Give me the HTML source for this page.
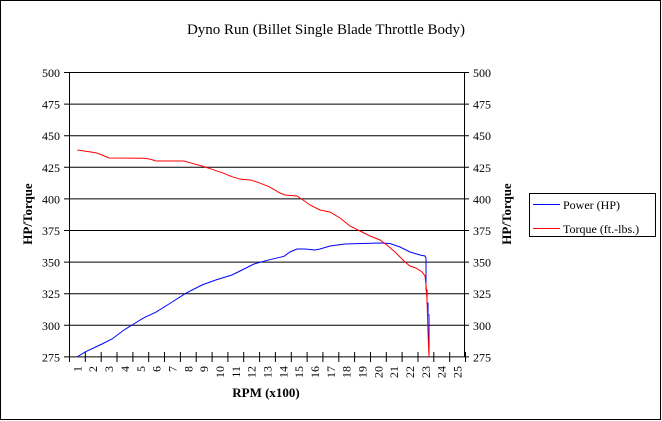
<!DOCTYPE html>
<html><head><style>
body{margin:0;background:#fff}
svg{display:block;font-family:"Liberation Serif",serif}
</style></head><body>
<svg width="662" height="421" viewBox="0 0 662 421" xmlns="http://www.w3.org/2000/svg">
<rect x="0.5" y="0.5" width="660" height="419" fill="#fff" stroke="#000"/>
<text x="326" y="34" font-size="15" text-anchor="middle">Dyno Run (Billet Single Blade Throttle Body)</text>
<g stroke="#000" stroke-width="1">
<line x1="64" y1="72.5" x2="469" y2="72.5"/>
<line x1="64" y1="104.1" x2="469" y2="104.1"/>
<line x1="64" y1="135.7" x2="469" y2="135.7"/>
<line x1="64" y1="167.3" x2="469" y2="167.3"/>
<line x1="64" y1="198.9" x2="469" y2="198.9"/>
<line x1="64" y1="230.5" x2="469" y2="230.5"/>
<line x1="64" y1="262.1" x2="469" y2="262.1"/>
<line x1="64" y1="293.7" x2="469" y2="293.7"/>
<line x1="64" y1="325.3" x2="469" y2="325.3"/>
<line x1="64" y1="356.9" x2="469" y2="356.9"/>
<line x1="69.5" y1="72" x2="69.5" y2="357"/>
<line x1="464.5" y1="72" x2="464.5" y2="357"/>
</g>
<g font-size="12" text-anchor="end">
<text x="60" y="77">500</text><text x="60" y="108.6">475</text><text x="60" y="140.2">450</text><text x="60" y="171.8">425</text><text x="60" y="203.4">400</text><text x="60" y="235">375</text><text x="60" y="266.6">350</text><text x="60" y="298.2">325</text><text x="60" y="329.8">300</text><text x="60" y="361.4">275</text>
</g>
<g font-size="12" text-anchor="start">
<text x="473" y="77">500</text><text x="473" y="108.6">475</text><text x="473" y="140.2">450</text><text x="473" y="171.8">425</text><text x="473" y="203.4">400</text><text x="473" y="235">375</text><text x="473" y="266.6">350</text><text x="473" y="298.2">325</text><text x="473" y="329.8">300</text><text x="473" y="361.4">275</text>
</g>
<g stroke="#000">
<line x1="69.5" y1="352" x2="69.5" y2="362"/><line x1="85.3" y1="352" x2="85.3" y2="362"/><line x1="101.2" y1="352" x2="101.2" y2="362"/><line x1="117" y1="352" x2="117" y2="362"/><line x1="132.9" y1="352" x2="132.9" y2="362"/><line x1="148.7" y1="352" x2="148.7" y2="362"/><line x1="164.5" y1="352" x2="164.5" y2="362"/><line x1="180.4" y1="352" x2="180.4" y2="362"/><line x1="196.2" y1="352" x2="196.2" y2="362"/><line x1="212.1" y1="352" x2="212.1" y2="362"/><line x1="227.9" y1="352" x2="227.9" y2="362"/><line x1="243.7" y1="352" x2="243.7" y2="362"/><line x1="259.6" y1="352" x2="259.6" y2="362"/><line x1="275.4" y1="352" x2="275.4" y2="362"/><line x1="291.3" y1="352" x2="291.3" y2="362"/><line x1="307.1" y1="352" x2="307.1" y2="362"/><line x1="322.9" y1="352" x2="322.9" y2="362"/><line x1="338.8" y1="352" x2="338.8" y2="362"/><line x1="354.6" y1="352" x2="354.6" y2="362"/><line x1="370.5" y1="352" x2="370.5" y2="362"/><line x1="386.3" y1="352" x2="386.3" y2="362"/><line x1="402.1" y1="352" x2="402.1" y2="362"/><line x1="418" y1="352" x2="418" y2="362"/><line x1="433.8" y1="352" x2="433.8" y2="362"/><line x1="449.7" y1="352" x2="449.7" y2="362"/><line x1="465.5" y1="352" x2="465.5" y2="362"/>
</g>
<g font-size="12" text-anchor="end">
<text transform="translate(81.4,366) rotate(-90)">1</text>
<text transform="translate(97.2,366) rotate(-90)">2</text>
<text transform="translate(113.1,366) rotate(-90)">3</text>
<text transform="translate(128.9,366) rotate(-90)">4</text>
<text transform="translate(144.8,366) rotate(-90)">5</text>
<text transform="translate(160.6,366) rotate(-90)">6</text>
<text transform="translate(176.4,366) rotate(-90)">7</text>
<text transform="translate(192.3,366) rotate(-90)">8</text>
<text transform="translate(208.1,366) rotate(-90)">9</text>
<text transform="translate(224,366) rotate(-90)">10</text>
<text transform="translate(239.8,366) rotate(-90)">11</text>
<text transform="translate(255.6,366) rotate(-90)">12</text>
<text transform="translate(271.5,366) rotate(-90)">13</text>
<text transform="translate(287.3,366) rotate(-90)">14</text>
<text transform="translate(303.2,366) rotate(-90)">15</text>
<text transform="translate(319,366) rotate(-90)">16</text>
<text transform="translate(334.8,366) rotate(-90)">17</text>
<text transform="translate(350.7,366) rotate(-90)">18</text>
<text transform="translate(366.5,366) rotate(-90)">19</text>
<text transform="translate(382.4,366) rotate(-90)">20</text>
<text transform="translate(398.2,366) rotate(-90)">21</text>
<text transform="translate(414,366) rotate(-90)">22</text>
<text transform="translate(429.9,366) rotate(-90)">23</text>
<text transform="translate(445.7,366) rotate(-90)">24</text>
<text transform="translate(461.6,366) rotate(-90)">25</text>
</g>
<text x="266" y="397" font-size="13" font-weight="bold" text-anchor="middle">RPM (x100)</text>
<text transform="translate(32,214) rotate(-90)" font-size="13" font-weight="bold" text-anchor="middle">HP/Torque</text>
<text transform="translate(511,214) rotate(-90)" font-size="13" font-weight="bold" text-anchor="middle">HP/Torque</text>
<polyline fill="none" stroke="#0000ff" stroke-width="1" points="77,357 85.7,351.7 102,344 112,339 124,330 132,325 144,317.7 155.7,312.3 169,304 185.7,293.3 202,285 215.7,280 232,275 242,270 254,264 265.7,260.7 284,256.3 290,252 297,249 305,249 315,250 320,249 330,246 345,244 380,243 390,243.5 400,247 410,252 420,255 425,256 426,258 426,290 427,290 427,303 428,303 428,315 429,315 429,357"/>
<polyline fill="none" stroke="#ff0000" stroke-width="1" points="77.3,150 89,151.7 95.7,152.7 102,155 109,158 144,158.3 150.7,159.3 155.7,161 184,161 192,163.3 202,166 212,169.3 222,172.7 232,176.7 240.7,179.3 250.7,180 259,182.7 269,186.7 280,193 285,195 297,196 303,200 310,205 320,210 330,212 340,218 350,226 360,231 370,236 380,240 387,245 395,252 402,259 405,262 410,266 416,268 422,272 425,276 426,285 427,300 428,333 429,357"/>
<rect x="529.5" y="193.5" width="126" height="43" fill="#fff" stroke="#000"/>
<line x1="533" y1="204.5" x2="560" y2="204.5" stroke="#0000ff"/>
<line x1="533" y1="228.5" x2="560" y2="228.5" stroke="#ff0000"/>
<text x="563" y="209" font-size="12">Power (HP)</text>
<text x="563" y="233" font-size="12">Torque (ft.-lbs.)</text>
</svg>
</body></html>
